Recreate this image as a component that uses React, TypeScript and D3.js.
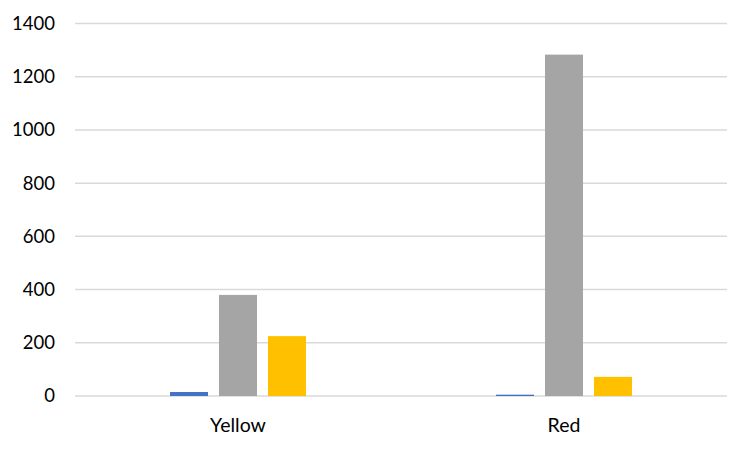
import React from "react";
import * as d3 from "d3";

const categories = ["Yellow", "Red"];
const seriesNames = ["Series1", "Series2", "Series3"];
const seriesColors = ["#4472C4", "#A5A5A5", "#FFC000"];
const series1 = [15, 5];
const series2 = [380, 1283];
const series3 = [225, 72];
const yTicks = [0, 200, 400, 600, 800, 1000, 1200, 1400];

const W = 750;
const H = 450;
const left = 75;
const right = 727;
const top = 23.5;
const bottom = 396;

export default function App() {
  const values = [series1, series2, series3];
  const y = d3.scaleLinear().domain([0, 1400]).range([bottom, top]);
  const x0 = d3.scaleBand<string>().domain(categories).range([left, right]).padding(0);
  const x1 = d3
    .scaleBand<string>()
    .domain(seriesNames)
    .range([0, x0.bandwidth()])
    .paddingInner(11 / 49)
    .paddingOuter(1.94);
  const font = "Lato, 'Open Sans', sans-serif";
  return (
    <svg
      width={W}
      height={H}
      style={{ position: "absolute", left: 0, top: 0, background: "#fff" }}
      fontFamily={font}
    >
      <rect x={0} y={0} width={W} height={H} fill="#fff" />
      {yTicks.map((t) => (
        <g key={t}>
          <line x1={left} x2={right} y1={y(t)} y2={y(t)} stroke="#D9D9D9" strokeWidth={1.5} />
          <text x={55} y={y(t)} dy="0.35em" textAnchor="end" fontSize={18.5} fill="#000">
            {t}
          </text>
        </g>
      ))}
      {categories.map((c, ci) => (
        <g key={c}>
          {seriesNames.map((s, si) => {
            const v = values[si][ci];
            const bx = (x0(c) ?? 0) + (x1(s) ?? 0);
            return (
              <rect
                key={s}
                x={bx}
                y={y(v)}
                width={x1.bandwidth()}
                height={bottom - y(v)}
                fill={seriesColors[si]}
              />
            );
          })}
          <text
            x={(x0(c) ?? 0) + x0.bandwidth() / 2}
            y={432}
            textAnchor="middle"
            fontSize={19.5}
            fill="#000"
          >
            {c}
          </text>
        </g>
      ))}
    </svg>
  );
}
